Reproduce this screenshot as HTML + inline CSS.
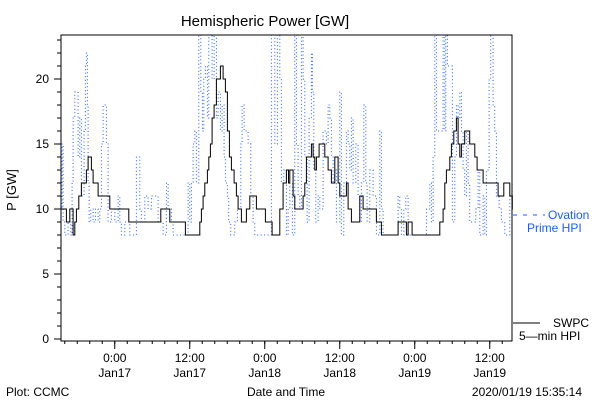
<!DOCTYPE html>
<html><head><meta charset="utf-8"><style>
body{margin:0;background:#fff;}
svg{display:block;font-family:"Liberation Sans",sans-serif;}
</style></head><body>
<svg id="chart" width="600" height="400" viewBox="0 0 600 400">
<rect width="600" height="400" fill="#fff"/>
<text x="265" y="26" font-size="15" text-anchor="middle">Hemispheric Power [GW]</text>
<text transform="translate(16,190) rotate(-90)" font-size="13" text-anchor="middle">P [GW]</text>
<text x="286" y="396" font-size="12" text-anchor="middle">Date and Time</text>
<text x="6" y="396" font-size="12">Plot: CCMC</text>
<text x="582" y="396" font-size="12" text-anchor="end">2020/01/19 15:35:14</text>
<g id="grid"></g>
<g id="series"></g>
<rect x="61" y="35" width="451" height="306" fill="none" stroke="#000" stroke-width="1"/>
<g>
<line x1="513" y1="215" x2="545" y2="215" stroke="#1a5cff" stroke-width="1" stroke-dasharray="4 6"/>
<text x="548" y="219" font-size="12" fill="#1a5cff">Ovation</text>
<text x="527" y="232" font-size="12" fill="#1a5cff">Prime HPI</text>
</g>
<g>
<line x1="513" y1="323" x2="540" y2="323" stroke="#000" stroke-width="1"/>
<text x="553" y="327" font-size="12">SWPC</text>
<text x="519" y="340" font-size="12">5—min HPI</text>
</g>
</svg>
<script>
const yTicks=[0,5,10,15,20];
const xTickHours=[0,12,24,36,48,60];
const xTickTimes=["0:00","12:00","0:00","12:00","0:00","12:00"];
const xTickDates=["Jan17","Jan17","Jan18","Jan18","Jan19","Jan19"];
const swpcHours=[-8.75,-7.73,-7.2,-6.67,-6.4,-6.13,-5.76,-5.33,-4.53,-4.27,-3.73,-3.47,-2.67,-0.8,2.24,7.36,8.8,11.3,13.6,13.87,14.13,14.4,14.83,15.04,15.3,15.57,15.89,16.27,16.9,17.33,17.7,18.03,18.35,18.67,19.1,19.47,19.73,20.27,21.07,21.6,22.67,24.1,25.17,26.4,26.93,27.47,27.8,28.0,28.53,28.8,29.87,30.13,30.4,30.67,31.47,31.73,32.0,32.27,32.69,33.6,34.13,34.67,35.2,35.73,36.0,37.07,37.33,37.87,39.2,39.73,41.87,42.67,45.33,46.67,46.93,47.57,47.73,52.0,52.53,52.8,53.07,53.6,53.87,54.24,54.67,54.93,55.2,55.47,56.0,56.8,57.6,57.97,58.93,61.33,62.24,63.2,63.6];
const swpcValues=[10,9,10,8,9,10,11,12,13,14,13,12,11,10,9,10,9,8,9,10,11,12,13,14,15,17,18,20,21,20,19,16,14,13,12,11,10,9,10,11,10,9,8,10,12,13,12,13,11,10,10,11,12,14,15,14,13,14,15,14,13,12,14,12,11,12,10,9,11,10,9,8,9,8,9,8,8,9,10,12,13,14,15,16,17,15,14,15,16,15,14,13,12,11,12,11,10,10];
const ovationHours=[-8.75,-8.43,-8.27,-8.0,-7.47,-7.04,-6.83,-6.67,-6.4,-6.13,-5.87,-5.6,-5.33,-4.91,-4.69,-4.53,-4.37,-4.27,-4.11,-3.84,-3.47,-3.09,-2.67,-2.4,-2.13,-1.87,-1.6,-1.33,-1.07,-0.53,0,0.53,0.8,1.07,1.6,2.13,2.4,2.93,3.47,3.73,4.0,4.27,4.8,5.33,5.87,6.4,6.93,7.47,7.73,8.27,8.53,9.07,9.33,10.67,11.47,11.73,12.0,12.27,12.53,12.8,13.07,13.44,13.76,14.03,14.24,14.51,14.83,15.04,15.25,15.57,15.89,16.27,16.53,16.91,17.17,17.49,17.71,18.03,18.24,18.56,18.93,19.2,19.63,20.16,20.37,20.69,21.07,21.33,21.76,22.13,22.4,24.53,25.07,25.6,26.03,26.4,26.67,27.04,27.47,27.73,28.0,28.43,28.8,29.07,29.33,29.6,29.87,30.13,30.4,30.77,31.09,31.47,31.63,31.84,32.16,32.53,32.8,33.33,33.87,34.13,34.4,34.67,34.93,35.2,35.47,36.0,36.27,36.64,37.07,37.33,37.6,37.87,38.13,38.56,38.93,39.2,39.47,39.84,40.16,40.37,40.8,41.33,41.87,42.4,42.67,42.93,43.47,45.07,45.33,45.6,45.87,46.24,46.56,46.93,47.73,49.33,49.87,50.4,50.67,50.93,51.2,51.47,52.53,52.8,52.96,53.23,53.6,54.03,54.4,54.67,54.93,55.2,55.47,55.73,56.0,56.27,56.53,56.8,57.33,57.76,58.13,58.4,58.93,59.2,59.47,59.89,60.16,60.53,60.8,61.07,61.49,61.87,62.4,63.2,63.57];
const ovationValues=[10,15,9,8,9,8,12,17,19,19,14,17,11,16,21,22,18,12,9,10,9,10,9,10,15,18,18,15,9,10,9,11,9,8,9,9,8,8,14,14,10,9,11,10,11,11,9,9,8,12,10,9,8,8,8,12,9,12,15,16,12,24,19,16,20,21,17,24,24,20,24,17,19,16,18,14,12,11,9,8,8,9,10,15,18,16,16,15,11,9,8,8,24,15,24,20,12,13,8,10,12,8,24,15,11,10,24,20,14,9,17,22,19,13,9,11,10,16,15,18,17,14,12,13,9,19,8,12,16,15,13,17,12,15,11,9,12,18,12,9,13,11,8,16,10,8,8,8,11,10,8,10,11,8,8,8,10,12,9,14,24,16,24,16,24,21,21,9,14,18,17,19,16,13,11,16,12,9,9,10,13,8,11,8,13,20,24,18,16,11,10,9,8,11,12];
const NS="http://www.w3.org/2000/svg";
const X0=61,X1=512,Y0=341,YT=35;
const H0=-8.6,PXH=6.25,PXU=13,YZ=339;
function xs(h){return X0+(h-H0)*PXH;}
function ys(v){return Math.max(YT,YZ-v*PXU);}
const grid=document.getElementById('grid');
function mk(tag,attrs,parent){const e=document.createElementNS(NS,tag);for(const k in attrs)e.setAttribute(k,attrs[k]);parent.appendChild(e);return e;}
for(let v=0;v<=23;v++){
  const t=mk('line',{x1:X0-4,x2:X0,y1:ys(v),y2:ys(v),stroke:'#000'},grid);
  
  
}
yTicks.forEach(v=>{
  const t=mk('line',{x1:X0-7,x2:X0,y1:ys(v),y2:ys(v),stroke:'#000'},grid);
  
  
  const l=mk('text',{x:X0-12,y:ys(v)+4,'font-size':12,'text-anchor':'end'},grid);
  l.textContent=v;
  
  
});
for(let h=-8;xs(h)<X1;h+=2){
  const t=mk('line',{x1:xs(h),x2:xs(h),y1:Y0,y2:Y0+3,stroke:'#000'},grid);
  
  
}
xTickHours.forEach((h,i)=>{
  const t=mk('line',{x1:xs(h),x2:xs(h),y1:Y0,y2:Y0+8,stroke:'#000'},grid);
  
  
  const a=mk('text',{x:xs(h),y:362,'font-size':12,'text-anchor':'middle'},grid);
  a.textContent=xTickTimes[i];
  
  
  const b=mk('text',{x:xs(h),y:377,'font-size':12,'text-anchor':'middle'},grid);
  b.textContent=xTickDates[i];
  
  
});
function stepPath(hs,vs){
  let d='M'+xs(hs[0]).toFixed(1)+','+ys(vs[0]).toFixed(1);
  for(let i=1;i<hs.length;i++){d+=' H'+xs(hs[i]).toFixed(1)+' V'+ys(vs[i]).toFixed(1);}
  d+=' H'+X1;
  return d;
}
const s=document.getElementById('series');
const ov=mk('path',{d:stepPath(ovationHours,ovationValues),fill:'none',stroke:'#1a5cff','stroke-width':1,'stroke-dasharray':'1 2.5'},s);


const sw=mk('path',{d:stepPath(swpcHours,swpcValues),fill:'none',stroke:'#000','stroke-width':1},s);


</script>
</body></html>
